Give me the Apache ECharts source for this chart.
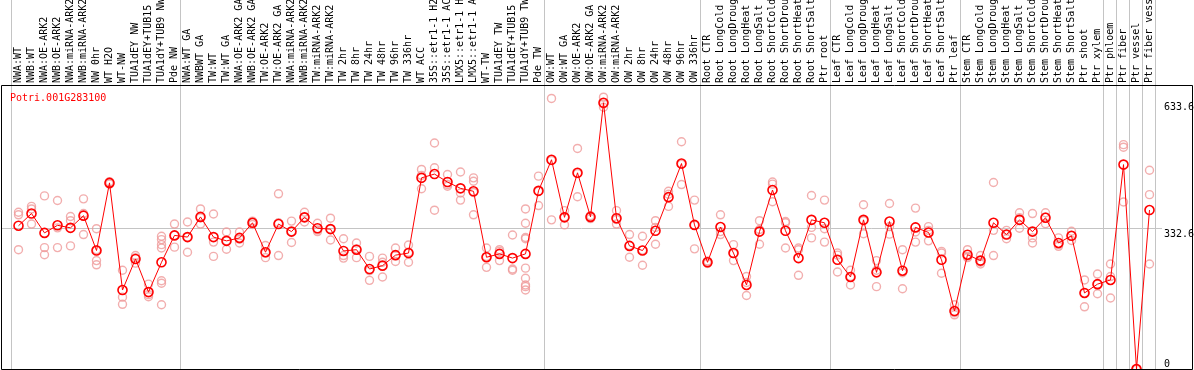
<!DOCTYPE html>
<html>
<head>
<meta charset="utf-8">
<script src="https://cdn.jsdelivr.net/npm/echarts@6/dist/echarts.min.js"></script>
<style>
html,body{margin:0;padding:0;background:#fff;}
#chart{width:1194px;height:370px;}
</style>
</head>
<body>
<div id="chart"></div>
<script>
const geneName = 'Potri.001G283100';

const categories = [
  'NWA:WT','NWB:WT','NWA:OE-ARK2','NWB:OE-ARK2','NWA:miRNA-ARK2','NWB:miRNA-ARK2','NW 0hr','WT H2O','WT-NW',
  'TUA1dEY NW','TUA1dEY+TUB15 NW','TUA1dY+TUB9 NW','Pde NW',
  'NWA:WT GA','NWBWT GA','TW:WT','TW:WT GA','NWA:OE-ARK2 GA','NWB:OE-ARK2 GA','TW:OE-ARK2','TW:OE-ARK2 GA',
  'NWA:miRNA-ARK2','NWB:miRNA-ARK2','TW:miRNA-ARK2','TW:miRNA-ARK2','TW 2hr','TW 8hr','TW 24hr','TW 48hr','TW 96hr','TW 336hr',
  'WT ACC','35S::etr1-1 H2O','35S::etr1-1 ACC','LMX5::etr1-1 H2O','LMX5::etr1-1 ACC','WT-TW','TUA1dEY TW','TUA1dEY+TUB15 TW','TUA1dY+TUB9 TW','Pde TW',
  'OW:WT','OW:WT GA','OW:OE-ARK2','OW:OE-ARK2 GA','OW:miRNA-ARK2','OW:miRNA-ARK2','OW 2hr','OW 8hr','OW 24hr','OW 48hr','OW 96hr','OW 336hr',
  'Root CTR','Root LongCold','Root LongDrought','Root LongHeat','Root LongSalt','Root ShortCold','Root ShortDrought','Root ShortHeat','Root ShortSalt','Ptr root',
  'Leaf CTR','Leaf LongCold','Leaf LongDrought','Leaf LongHeat','Leaf LongSalt','Leaf ShortCold','Leaf ShortDrought','Leaf ShortHeat','Leaf ShortSalt','Ptr leaf',
  'Stem CTR','Stem LongCold','Stem LongDrought','Stem LongHeat','Stem LongSalt','Stem ShortCold','Stem ShortDrought','Stem ShortHeat','Stem ShortSalt','Ptr shoot',
  'Ptr xylem','Ptr phloem','Ptr fiber','Ptr vessel','Ptr fiber vessel'
];

const means = [
  341,370,324,342,336,365,282,443,188,
  262,183,254,318,
  314,362,314,305,312,348,278,345,
  327,361,335,333,281,284,238,246,271,276,
  455,464,445,430,423,266,274,264,274,424,
  498,361,467,362,633.6,359,293,282,329,409,489,343,
  254,338,276,200,327,426,329,264,355,348,
  260,219,355,230,351,234,337,325,260,138,
  272,258,348,320,355,327,360,300,317,181,
  202,212,486.5,0,378.4
];

const replicates = [
  [373,367,284],[387,381,345],[412,289,272],[401,289,336],[363,353,293],[405,320,370],[334,284,258,248],[446,440,443],[235,171,154],
  [270,265,252],[202,177,172],[316,308,296,288,210,204,153],[345,290,318],
  [350,278,314],[381,345,360],[369,302,268],[326,285,305],[326,300,309],[352,344,348],[294,265,276],[417,270,348],
  [352,301,327],[373,350,361],[347,327,331],[359,307,333],[310,270,264],[300,265,286],[268,234,211],[264,219,254],[288,256,270],[295,254,278],
  [475,429,461],[538,479,378],[463,439,435],[469,419,402],[455,447,420,367],[288,268,242],[284,280,258],[319,238,235],[381,347,313,310,240,216,200,196,188],[459,389,423],
  [644,355,496],[377,343,362],[525,410,465],[362,358,365],[647,623,631],[377,345,356],[320,266,294],[316,247,283],[353,297,337],[423,387,416],[541,439,487],[402,286,342],
  [257,251,255],[367,320,327],[296,258,275],[220,175,206],[353,297,332],[445,440,398],[351,288,348],[288,284,223],[413,337,312],[402,334,302],
  [276,271,231],[235,200,220],[391,322,353],[258,196,235],[394,321,339],[284,191,229],[383,302,326],[339,305,330],[280,276,228],[153,129,134],
  [284,265,268],[270,250,254],[444,330,270],[330,310,320],[372,360,335],[370,300,312],[372,362,346],[312,292,296],[328,306,317],[212,181,148],
  [226,179,202],[250,220,169],[534,528,397.5],[0,0,0],[473,415,250]
];

const yTickValues = [0, 332.6, 633.6];
const groupBoundaries = [0, 13, 41, 53, 63, 73, 84, 85, 86, 87, 88];

const GRID_LEFT = 12, GRID_TOP = 85, GRID_WIDTH = 1144, GRID_HEIGHT = 284;
const Y_MAX = 676;
const MONO = 'DejaVu Sans Mono';

const scatterData = [];
replicates.forEach((reps, i) => reps.forEach(v => scatterData.push([i, v])));

const chart = echarts.init(document.getElementById('chart'), null, {renderer: 'canvas'});

chart.setOption({
  animation: false,
  backgroundColor: '#fff',
  title: {
    text: geneName,
    left: 5, top: 88,
    textStyle: {color: '#ff0000', fontFamily: MONO, fontSize: 10, fontWeight: 'normal'}
  },
  grid: {left: GRID_LEFT, top: GRID_TOP, width: GRID_WIDTH, height: GRID_HEIGHT,
    containLabel: false, outerBoundsMode: 'none'},
  xAxis: [
    {
      type: 'category', position: 'top', data: categories, boundaryGap: true,
      axisLine: {show: false}, axisTick: {show: false}, splitLine: {show: false},
      axisLabel: {rotate: 90, interval: 0, margin: 2, color: '#000', fontFamily: MONO, fontSize: 10}
    },
    {type: 'value', min: 0, max: categories.length, show: false}
  ],
  yAxis: [
    {
      type: 'value', position: 'right', min: 0, max: Y_MAX,
      axisLine: {show: false}, axisTick: {show: false}, splitLine: {show: false},
      axisLabel: {customValues: yTickValues.slice(1), verticalAlign: 'top', margin: 8, color: '#000', fontFamily: MONO, fontSize: 10,
        formatter: v => String(v)}
    },
    {
      type: 'value', position: 'right', min: 0, max: Y_MAX,
      axisLine: {show: false}, axisTick: {show: false}, splitLine: {show: false},
      axisLabel: {customValues: yTickValues.slice(0, 1), verticalAlign: 'bottom', margin: 8, color: '#000', fontFamily: MONO, fontSize: 10,
        formatter: v => String(v)}
    }
  ],
  series: [
    {
      type: 'scatter', xAxisIndex: 0, yAxisIndex: 0, data: scatterData,
      symbol: 'circle', symbolSize: 8, z: 3,
      itemStyle: {color: 'rgba(0,0,0,0)', borderColor: '#ef9a9a', borderWidth: 1.4},
      emphasis: {disabled: true}
    },
    {
      type: 'line', xAxisIndex: 0, yAxisIndex: 0, data: means,
      symbol: 'circle', symbolSize: 9, showSymbol: true, z: 4,
      lineStyle: {color: '#ff0000', width: 1},
      itemStyle: {color: 'rgba(0,0,0,0)', borderColor: '#ff0000', borderWidth: 1.6},
      emphasis: {disabled: true}
    }
  ]
});

// Separator / reference lines, positioned through the chart's own scales
const yBottom = chart.convertToPixel({yAxisIndex: 0}, 0);
const yTop = chart.convertToPixel({yAxisIndex: 0}, Y_MAX);
const yRef = chart.convertToPixel({yAxisIndex: 0}, yTickValues[1]);
const crisp = v => Math.round(v) + 0.5;
const graphics = [];
groupBoundaries.forEach(k => {
  const x = crisp(chart.convertToPixel({xAxisIndex: 1}, k)) - 1;
  graphics.push({type: 'line', z: 1, silent: true,
    shape: {x1: x, y1: 0, x2: x, y2: yBottom},
    style: {stroke: '#c4c4c4', lineWidth: 1}});
});
graphics.push({type: 'line', z: 1, silent: true,
  shape: {x1: 1, y1: crisp(yRef) - 1, x2: 1162, y2: crisp(yRef) - 1},
  style: {stroke: '#c4c4c4', lineWidth: 1}});
graphics.push({type: 'rect', z: 5, silent: true,
  shape: {x: 1.5, y: crisp(yTop), width: 1191, height: Math.round(yBottom - yTop)},
  style: {fill: 'none', stroke: '#000', lineWidth: 1}});
chart.setOption({graphic: graphics});
</script>
</body>
</html>
